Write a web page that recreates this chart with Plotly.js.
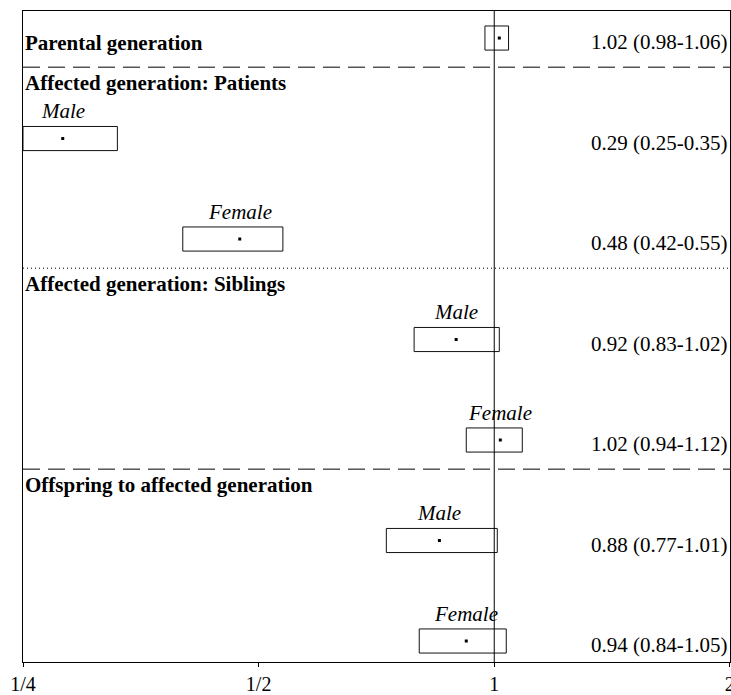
<!DOCTYPE html>
<html>
<head>
<meta charset="utf-8">
<script src="https://cdn.plot.ly/plotly-3.0.1.min.js"></script>
<style>html,body{margin:0;padding:0;background:#fff;}#chart{width:731px;height:695px;}</style>
</head>
<body>
<div id="chart"></div>
<script>
// ---- data ----
const rowLabels = ['Parental generation', 'Male', 'Female', 'Male', 'Female', 'Male', 'Female'];
const estimate  = [1.015, 0.281, 0.473, 0.894, 1.018, 0.851, 0.921];
const lower     = [0.973, 0.250, 0.400, 0.790, 0.921, 0.728, 0.802];
const upper     = [1.043, 0.330, 0.537, 1.015, 1.086, 1.009, 1.036];
const ciText    = ['1.02 (0.98-1.06)', '0.29 (0.25-0.35)', '0.48 (0.42-0.55)', '0.92 (0.83-1.02)',
                   '1.02 (0.94-1.12)', '0.88 (0.77-1.01)', '0.94 (0.84-1.05)'];
const groupHeaders = ['Affected generation: Patients', 'Affected generation: Siblings', 'Offspring to affected generation'];
const groupStart   = [1, 3, 5];
const groupDash    = ['17px,8px', '1px,3px', '17px,8px'];
const tickVals  = [0.25, 0.5, 1, 2];
const tickText  = ['1/4', '1/2', '1', '2'];

// ---- layout constants ----
const FONT = '"Liberation Serif", "Times New Roman", serif';
const boxHalf = 0.12;
const nRows = estimate.length;

const traces = [];
for (let i = 0; i < nRows; i++) {
  traces.push({
    type: 'scatter', mode: 'lines',
    x: [lower[i], upper[i], upper[i], lower[i], lower[i]],
    y: [i - boxHalf, i - boxHalf, i + boxHalf, i + boxHalf, i - boxHalf],
    line: {color: '#111', width: 1},
    hoverinfo: 'skip', showlegend: false, cliponaxis: false
  });
}
traces.push({
  type: 'scatter', mode: 'markers',
  x: estimate, y: estimate.map((v, i) => i),
  marker: {symbol: 'square', size: 3, color: '#000'},
  showlegend: false, hoverinfo: 'skip'
});

const annotations = [];
annotations.push({
  text: '<b>' + rowLabels[0] + '</b>', x: 0, xref: 'paper', xanchor: 'left',
  y: 0.05, yref: 'y', yanchor: 'middle', showarrow: false,
  font: {family: FONT, size: 21, color: '#000'}
});
for (let i = 1; i < nRows; i++) {
  annotations.push({
    text: '<i>' + rowLabels[i] + '</i>', x: Math.log10(estimate[i]), xref: 'x', xanchor: 'center',
    y: i - 0.27, yref: 'y', yanchor: 'middle', showarrow: false,
    font: {family: FONT, size: 21, color: '#000'}
  });
}
for (let i = 0; i < nRows; i++) {
  annotations.push({
    text: ciText[i], x: 1, xref: 'paper', xanchor: 'right', xshift: -1,
    y: i + 0.04, yref: 'y', yanchor: 'middle', showarrow: false,
    font: {family: FONT, size: 21, color: '#000'}
  });
}
const shapes = [{
  type: 'line', xref: 'x', yref: 'paper', x0: 1, x1: 1, y0: 0, y1: 1,
  line: {color: '#000', width: 1}
}];
groupHeaders.forEach((h, g) => {
  const ySep = groupStart[g] - 0.71;
  shapes.push({
    type: 'line', xref: 'paper', yref: 'y', x0: 0, x1: 1, y0: ySep, y1: ySep,
    line: {color: '#000', width: 1, dash: groupDash[g]}
  });
  annotations.push({
    text: '<b>' + h + '</b>', x: 0, xref: 'paper', xanchor: 'left',
    y: groupStart[g] - 0.55, yref: 'y', yanchor: 'middle', showarrow: false,
    font: {family: FONT, size: 21, color: '#000'}
  });
});

const layout = {
  width: 731, height: 695,
  margin: {l: 23, r: 1, t: 11, b: 33, pad: 0},
  paper_bgcolor: '#fff', plot_bgcolor: '#fff',
  showlegend: false,
  font: {family: FONT, size: 20, color: '#000'},
  xaxis: {
    type: 'log', range: [Math.log10(0.25), Math.log10(2.0008)],
    tickvals: tickVals, ticktext: tickText,
    ticks: 'outside', ticklen: 4, tickcolor: '#000', tickwidth: 1,
    ticklabeloverflow: 'allow',
    showline: true, linecolor: '#000', linewidth: 1, mirror: true,
    showgrid: false, zeroline: false,
    tickfont: {family: FONT, size: 20, color: '#000'}
  },
  yaxis: {
    range: [6.209, -0.269], showticklabels: false, ticks: '',
    showline: true, linecolor: '#000', linewidth: 1, mirror: true,
    showgrid: false, zeroline: false
  },
  shapes: shapes,
  annotations: annotations
};

Plotly.newPlot('chart', traces, layout, {displayModeBar: false, staticPlot: true});
</script>
</body>
</html>
